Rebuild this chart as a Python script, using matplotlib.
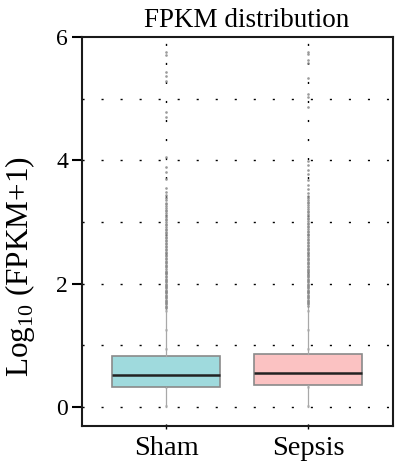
import matplotlib
matplotlib.use("Agg")
import matplotlib.pyplot as plt

# =====================================================
# DATA
# =====================================================

groups = ["Sham", "Sepsis"]

box_q1 = [0.315, 0.347]
box_median = [0.517, 0.542]
box_q3 = [0.823, 0.856]
whisker_low = [0.0, 0.0]
whisker_high = [1.58, 1.62]

sham_outliers = [
    5.75, 5.71, 5.44, 5.37, 5.29, 4.78, 4.71, 4.06, 3.89, 3.81, 3.70,
    3.55, 3.49, 3.43, 3.38, 3.35, 3.31, 3.29, 3.26, 3.22, 3.19, 3.17,
    3.14, 3.11, 3.08, 3.05, 3.03, 3.00, 2.97, 2.95, 2.92, 2.89, 2.87,
    2.84, 2.82, 2.79, 2.76, 2.74, 2.71, 2.69, 2.66, 2.64, 2.61, 2.59,
    2.56, 2.54, 2.51, 2.49, 2.47, 2.44, 2.42, 2.40, 2.37, 2.35, 2.33,
    2.30, 2.28, 2.26, 2.24, 2.21, 2.19, 2.17, 2.15, 2.13, 2.10, 2.08,
    2.06, 2.04, 2.02, 2.00, 1.98, 1.96, 1.94, 1.92, 1.90, 1.88, 1.86,
    1.84, 1.82, 1.80, 1.78, 1.76, 1.74, 1.72, 1.70, 1.68, 1.66, 1.64,
    1.62, 1.60
]

sepsis_outliers = [
    5.76, 5.72, 5.62, 5.58, 5.33, 5.08, 5.02, 4.87, 3.99, 3.92, 3.84,
    3.77, 3.68, 3.60, 3.53, 3.47, 3.42, 3.39, 3.36, 3.33, 3.30, 3.27,
    3.24, 3.21, 3.18, 3.16, 3.13, 3.10, 3.07, 3.05, 3.02, 2.99, 2.96,
    2.94, 2.91, 2.88, 2.86, 2.83, 2.81, 2.78, 2.76, 2.73, 2.71, 2.68,
    2.66, 2.63, 2.61, 2.58, 2.56, 2.54, 2.51, 2.49, 2.47, 2.44, 2.42,
    2.40, 2.38, 2.35, 2.33, 2.31, 2.29, 2.27, 2.24, 2.22, 2.20, 2.18,
    2.16, 2.14, 2.12, 2.10, 2.08, 2.06, 2.04, 2.02, 2.00, 1.98, 1.96,
    1.94, 1.92, 1.90, 1.88, 1.86, 1.84, 1.82, 1.80, 1.78, 1.76, 1.74,
    1.72, 1.70, 1.68, 1.66, 1.64
]

box_colors = ["#9fdadd", "#fbc2c2"]

# =====================================================
# STYLE
# =====================================================

plt.rcParams["font.family"] = ["Liberation Serif", "DejaVu Serif"]
plt.rcParams["mathtext.fontset"] = "custom"
plt.rcParams["mathtext.rm"] = "Liberation Serif"

fig = plt.figure(figsize=(3.95, 4.69), dpi=100)

ax = fig.add_axes([0.207, 0.092, 0.788, 0.829])

# =====================================================
# BOXPLOT
# =====================================================

stats = []

for i, name in enumerate(groups):

    stats.append(dict(
        label=name,
        q1=box_q1[i],
        med=box_median[i],
        q3=box_q3[i],
        whislo=whisker_low[i],
        whishi=whisker_high[i],
        fliers=[sham_outliers, sepsis_outliers][i]
    ))

positions = [1, 2]

bp = ax.bxp(
    stats,
    positions=positions,
    widths=0.76,
    patch_artist=True,
    showcaps=False,
    boxprops=dict(edgecolor="#8a8a8a", linewidth=1.2),
    medianprops=dict(color="#222222", linewidth=1.8),
    whiskerprops=dict(color="#a8a8a8", linewidth=0.9),
    flierprops=dict(
        marker="o",
        markersize=1.9,
        markerfacecolor="#8a8a8a",
        markeredgecolor="none",
        alpha=0.85
    ),
    zorder=3
)

for patch, c in zip(bp["boxes"], box_colors):
    patch.set_facecolor(c)

# =====================================================
# GRID (dotted)
# =====================================================

dots = (0, (1.5, 12.2))

for yv in [0, 1, 2, 3, 4, 5]:
    ax.axhline(yv, color="black", linewidth=1.0, linestyle=dots, zorder=1)

for xv in positions:
    ax.axvline(xv, color="black", linewidth=1.0, linestyle=dots, zorder=2)

# =====================================================
# AXES
# =====================================================

ax.set_xlim(0.405, 2.6)
ax.set_ylim(-0.31, 6)

ax.set_yticks([0, 2, 4, 6])
ax.set_xticks(positions)
ax.set_xticklabels(groups)

ax.tick_params(axis="y", direction="out", length=7, width=1.5,
               labelsize=17, pad=3)
ax.tick_params(axis="x", direction="out", length=2.5, width=1.0,
               labelsize=20.5, pad=5)

for side in ["left", "bottom", "top", "right"]:
    ax.spines[side].set_linewidth(1.5)
    ax.spines[side].set_color("#1a1a1a")

ax.set_ylabel(r"Log$_{\mathrm{10}}$ (FPKM+1)", fontsize=22.5)
ax.yaxis.set_label_coords(-0.145, 0.41)

ax.set_title("FPKM distribution", fontsize=19.5, pad=7, x=0.53)

plt.savefig("out.png", dpi=100)
